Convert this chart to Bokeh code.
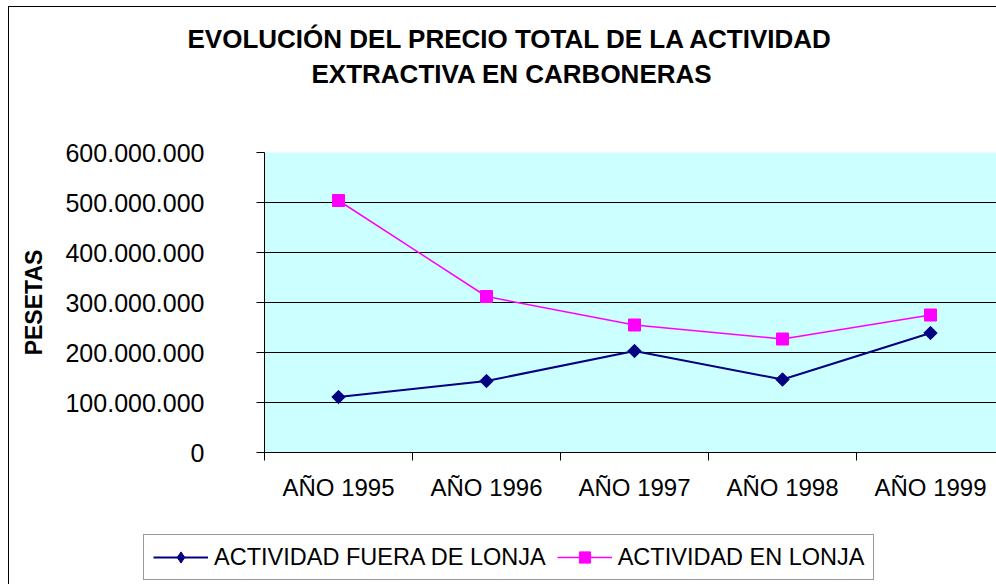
from bokeh.plotting import figure
from bokeh.models import Range1d, FixedTicker, Title, Legend, LegendItem, ColumnDataSource
from bokeh.layouts import column
from bokeh.embed import file_html
from bokeh.resources import INLINE

# ---- data ----
categories = ["AÑO 1995", "AÑO 1996", "AÑO 1997", "AÑO 1998", "AÑO 1999"]
fuera_lonja = [111_000_000, 143_000_000, 203_000_000, 146_000_000, 239_000_000]
en_lonja = [504_000_000, 312_000_000, 255_000_000, 227_000_000, 275_000_000]
y_ticks = [0, 100_000_000, 200_000_000, 300_000_000, 400_000_000, 500_000_000, 600_000_000]
y_tick_labels = ["0", "100.000.000", "200.000.000", "300.000.000",
                 "400.000.000", "500.000.000", "600.000.000"]
series_names = ["ACTIVIDAD FUERA DE LONJA", "ACTIVIDAD EN LONJA"]
title_lines = ["EVOLUCIÓN DEL PRECIO TOTAL DE LA ACTIVIDAD", "EXTRACTIVA EN CARBONERAS"]
y_title = "PESETAS"

FONT = "Liberation Sans"
W = 987
H = 513
LEG_H = 64
LEFT = 255
TOP = 145
xs = list(range(1, len(categories) + 1))
cat_px = 148.0
frame_w = W - LEFT

navy = "#000080"
magenta = "#FF00FF"

src = ColumnDataSource(data=dict(x=xs, fuera=fuera_lonja, lonja=en_lonja))

p = figure(width=W, height=H, output_backend="svg", toolbar_location=None,
           x_range=Range1d(0.5, 0.5 + frame_w / cat_px),
           y_range=Range1d(0, 600_000_000),
           min_border_left=LEFT, min_border_right=0, min_border_top=TOP,
           min_border_bottom=H - TOP - 300)
p.frame_align = False
p.background_fill_color = "#CCFFFF"
p.border_fill_color = "white"
p.outline_line_color = None

# titles (nearest the frame first)
spacer = Title(text=" ", text_font_size="1px", standoff=59, text_color="white")
t2 = Title(text=title_lines[1], align="left", offset=47, standoff=4,
           text_font=FONT, text_font_size="26px", text_font_style="bold",
           text_color="black")
t1 = Title(text=title_lines[0], align="left", offset=-77, standoff=2,
           text_font=FONT, text_font_size="26px", text_font_style="bold",
           text_color="black")
p.add_layout(spacer, "above")
p.add_layout(t2, "above")
p.add_layout(t1, "above")

# grid
p.xgrid.grid_line_color = None
p.ygrid.ticker = FixedTicker(ticks=y_ticks)
p.ygrid.grid_line_color = "black"
p.ygrid.grid_line_width = 1

# y axis
ya = p.yaxis[0]
ya.ticker = FixedTicker(ticks=y_ticks)
ya.major_label_overrides = {v: s for v, s in zip(y_ticks, y_tick_labels)}
ya.major_label_text_font = FONT
ya.major_label_text_font_size = "25px"
ya.major_label_text_color = "black"
ya.major_tick_out = 8
ya.major_tick_in = 0
ya.minor_tick_out = 0
ya.minor_tick_in = 0
ya.major_label_standoff = 52
ya.axis_line_color = "black"
ya.major_tick_line_color = "black"
ya.axis_label = y_title
ya.axis_label_text_font = FONT
ya.axis_label_text_font_size = "23px"
ya.axis_label_text_font_style = "bold"
ya.axis_label_text_color = "black"
ya.axis_label_standoff = 15

# x axis
xa = p.xaxis[0]
xa.ticker = FixedTicker(ticks=xs, minor_ticks=[x - 0.5 for x in xs])
xa.major_label_overrides = {x: c for x, c in zip(xs, categories)}
xa.major_label_text_font = FONT
xa.major_label_text_font_size = "24px"
xa.major_label_text_color = "black"
xa.major_tick_out = 0
xa.major_tick_in = 0
xa.minor_tick_out = 8
xa.minor_tick_in = 0
xa.minor_tick_line_color = "black"
xa.major_label_standoff = 13
xa.axis_line_color = "black"


def draw_series(fig, diamond_marker="square", diamond_angle=0.785398):
    a = fig.line("x", "fuera", source=src, line_color=navy, line_width=2)
    b = fig.scatter("x", "fuera", source=src, marker=diamond_marker, size=9.5,
                    angle=diamond_angle, fill_color=navy, line_color=navy)
    c = fig.line("x", "lonja", source=src, line_color=magenta, line_width=1.5)
    d = fig.scatter("x", "lonja", source=src, marker="square", size=12,
                    fill_color=magenta, line_color=magenta)
    return a, b, c, d


draw_series(p)

# legend strip: a second figure whose frame holds the legend box
q = figure(width=W, height=LEG_H, output_backend="svg", toolbar_location=None,
           x_range=Range1d(0, 1), y_range=Range1d(0, 1),
           min_border_left=0, min_border_right=0, min_border_top=0,
           min_border_bottom=0)
q.frame_align = False
q.axis.visible = False
q.grid.visible = False
q.outline_line_color = None
q.background_fill_color = "white"
q.border_fill_color = "white"
# outside q's ranges: only the legend swatches show
ql1, qm1, ql2, qm2 = draw_series(q, diamond_marker="diamond", diamond_angle=0.0)

legend = Legend(items=[LegendItem(label=series_names[0], renderers=[ql1, qm1]),
                       LegendItem(label=series_names[1], renderers=[ql2, qm2])],
                orientation="horizontal", location=(134, 4),
                label_text_font=FONT, label_text_font_size="23.5px",
                label_text_color="black",
                glyph_width=55, glyph_height=28, label_standoff=6,
                spacing=11, padding=(9, 8), margin=0,
                border_line_color="#333333", border_line_width=1,
                background_fill_color="white", background_fill_alpha=1.0)
q.add_layout(legend, "center")

layout = column(p, q, spacing=0)
layout.styles = {"margin-left": "8px", "margin-top": "6px",
                 "border-left": "1px solid black", "border-top": "1px solid black"}

open("out.html", "w").write(file_html(layout, INLINE))
